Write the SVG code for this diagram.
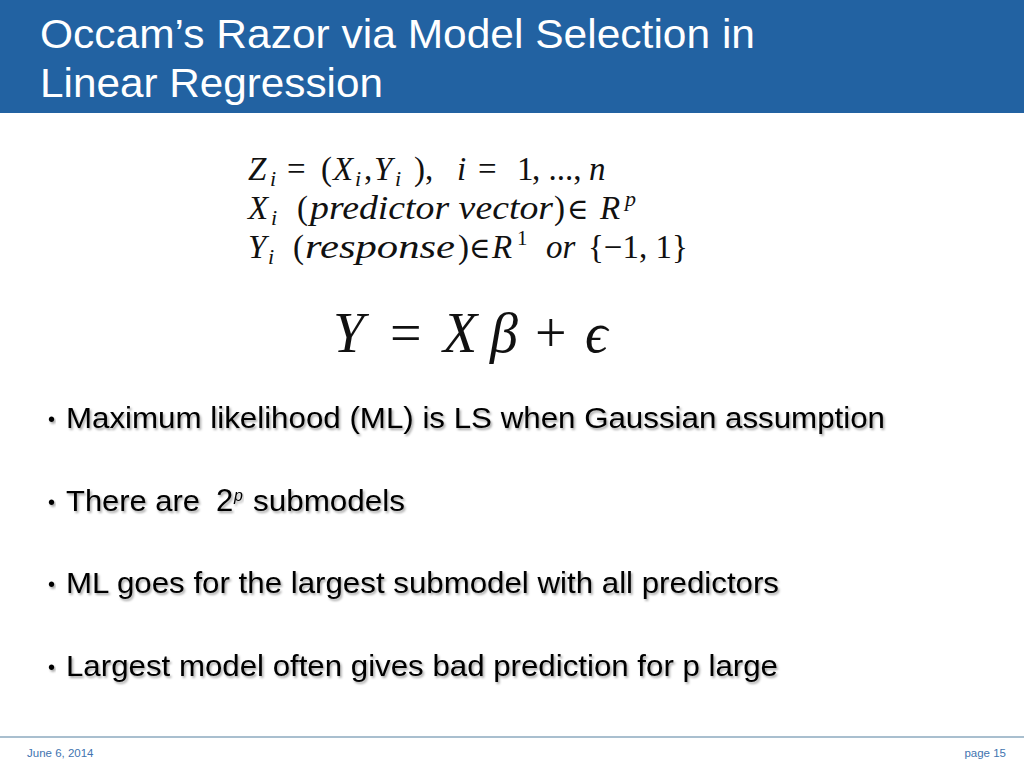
<svg xmlns="http://www.w3.org/2000/svg" width="1024" height="768" viewBox="0 0 1024 768">
<defs>
<filter id="sh" x="-5%" y="-20%" width="110%" height="150%">
<feDropShadow dx="1.5" dy="2" stdDeviation="1" flood-color="#000" flood-opacity="0.35"/>
</filter>
</defs>
<style>
.title{font-family:"Liberation Sans",Arial,sans-serif;font-size:40px;fill:#ffffff}
.bul{font-family:"Liberation Sans",Arial,sans-serif;font-size:30px;fill:#000000;filter:url(#sh)}
.dot{font-family:"Liberation Sans",Arial,sans-serif;font-size:20px;fill:#000000;filter:url(#sh)}
.m{font-family:"Liberation Serif","DejaVu Serif",serif;font-size:33px;fill:#111}
.i{font-style:italic}
.s{font-size:22px;font-style:italic}
.big{font-family:"Liberation Serif","DejaVu Serif",serif;font-size:56px;fill:#111}
.foot{font-family:"Liberation Sans",Arial,sans-serif;font-size:11.5px;fill:#3f74b0}
</style>
<rect width="1024" height="768" fill="#ffffff"/>
<g id="header">
<rect x="0" y="0" width="1024" height="113" fill="#2262a2"/>
<text class="title" x="40" y="48" textLength="715" lengthAdjust="spacingAndGlyphs">Occam’s Razor via Model Selection in</text>
<text class="title" x="40" y="97" textLength="343" lengthAdjust="spacingAndGlyphs">Linear Regression</text>
</g>
<g id="formulas">
<g id="line1" class="m">
<text class="i" x="248" y="180">Z</text>
<text class="s" x="270" y="186">i</text>
<text x="287" y="180">=</text>
<text x="321" y="180">(</text>
<text class="i" x="333" y="180">X</text>
<text class="s" x="355" y="186">i</text>
<text x="364" y="180">,</text>
<text class="i" x="374" y="180">Y</text>
<text class="s" x="395" y="186">i</text>
<text x="414" y="180">),</text>
<text class="i" x="457" y="180">i</text>
<text x="478" y="180">=</text>
<text x="517" y="180">1</text>
<text x="532" y="180">, ..., </text>
<text class="i" x="589" y="180">n</text>
</g>
<g id="line2" class="m">
<text class="i" x="248" y="219">X</text>
<text class="s" x="271" y="225">i</text>
<text x="297" y="219">(</text>
<text class="i" x="310" y="219" textLength="243" lengthAdjust="spacingAndGlyphs">predictor vector</text>
<text x="554" y="219">)</text>
<text x="567" y="219" style="font-size:29px">∈</text>
<text class="i" x="600" y="219">R</text>
<text class="s" x="625" y="206">p</text>
</g>
<g id="line3" class="m">
<text class="i" x="248" y="258">Y</text>
<text class="s" x="268" y="264">i</text>
<text x="293" y="258">(</text>
<text class="i" x="305" y="258" textLength="150" lengthAdjust="spacingAndGlyphs">response</text>
<text x="458" y="258">)</text>
<text x="469" y="258" style="font-size:29px">∈</text>
<text class="i" x="492" y="258">R</text>
<text x="517" y="245" style="font-size:21px">1</text>
<text class="i" x="546" y="258">or</text>
<text x="588" y="258">{−1, 1}</text>
</g>
<g id="equation" class="big">
<text class="i" x="333" y="352">Y</text>
<text x="390" y="352">=</text>
<text class="i" x="443" y="352">X</text>
<text class="i" x="490" y="352">β</text>
<text x="535" y="352">+</text>
<text class="i" x="585" y="352">ϵ</text>
</g>
</g>
<g id="bullets">
<text class="dot" x="48" y="426">•</text>
<text class="bul" x="66" y="428" textLength="819" lengthAdjust="spacingAndGlyphs">Maximum likelihood (ML) is LS when Gaussian assumption</text>
<text class="dot" x="48" y="509">•</text>
<text class="bul" x="66" y="511" textLength="134" lengthAdjust="spacingAndGlyphs">There are</text>
<text class="bul" x="216" y="511" style="font-size:31px">2</text>
<text class="bul" x="234" y="501" style="font-size:16px;font-style:italic">p</text>
<text class="bul" x="253" y="511" textLength="152" lengthAdjust="spacingAndGlyphs">submodels</text>
<text class="dot" x="48" y="591">•</text>
<text class="bul" x="66" y="593" textLength="713" lengthAdjust="spacingAndGlyphs">ML goes for the largest submodel with all predictors</text>
<text class="dot" x="48" y="674">•</text>
<text class="bul" x="66" y="676" textLength="712" lengthAdjust="spacingAndGlyphs">Largest model often gives bad prediction for p large</text>
</g>
<g id="footer">
<rect x="0" y="736" width="1024" height="2" fill="#a9bfcf"/>
<text class="foot" x="27" y="757">June 6, 2014</text>
<text class="foot" x="1006" y="757" text-anchor="end">page 15</text>
</g>
</svg>
